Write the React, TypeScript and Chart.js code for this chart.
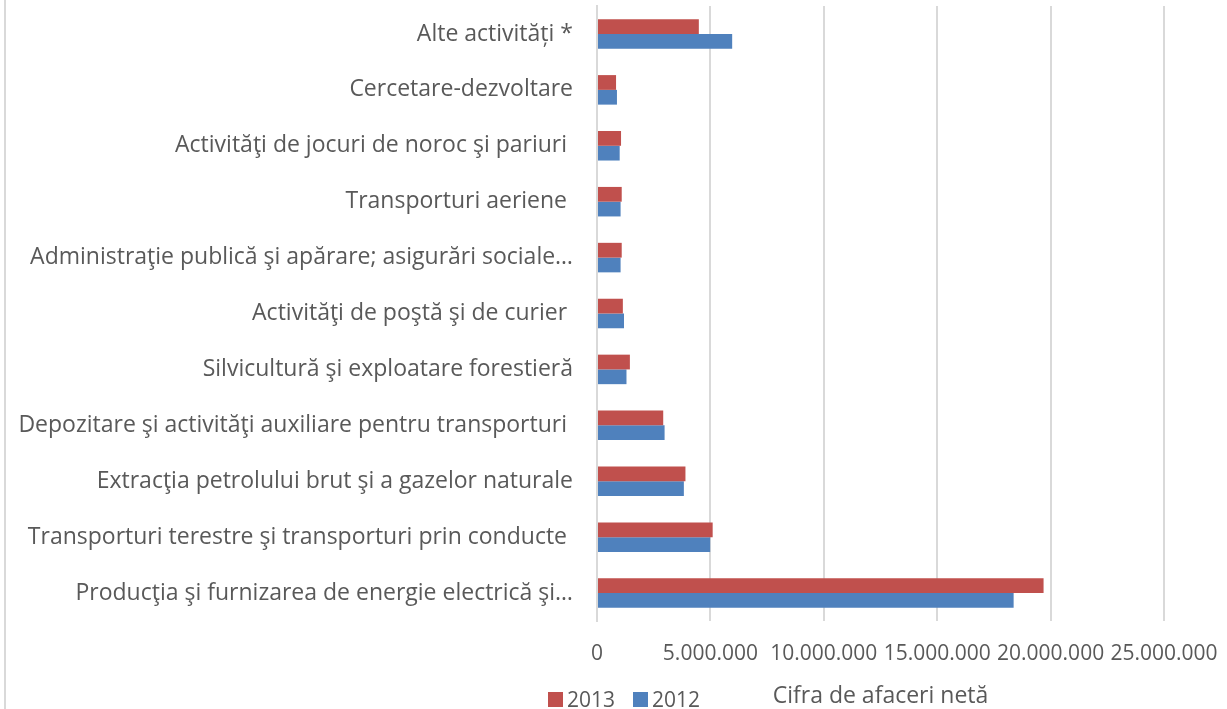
import React, { useEffect, useRef } from "react";
import { Chart, registerables } from "chart.js";

Chart.register(...registerables);

const categories = [
  "Alte activități *",
  "Cercetare-dezvoltare",
  "Activităţi de jocuri de noroc şi pariuri ",
  "Transporturi aeriene ",
  "Administraţie publică şi apărare; asigurări sociale…",
  "Activităţi de poştă şi de curier ",
  "Silvicultură şi exploatare forestieră",
  "Depozitare şi activităţi auxiliare pentru transporturi ",
  "Extracţia petrolului brut şi a gazelor naturale",
  "Transporturi terestre şi transporturi prin conducte ",
  "Producţia şi furnizarea de energie electrică şi…",
];

const values2013 = [4490000, 840000, 1060000, 1090000, 1090000, 1140000, 1450000, 2920000, 3900000, 5100000, 19690000];
const values2012 = [5960000, 880000, 1000000, 1040000, 1040000, 1190000, 1300000, 2980000, 3830000, 4990000, 18370000];

const seriesLabels = ["2013", "2012"];
const seriesColors = ["#c0504d", "#4f81bd"];

const axisTitle = "Cifra de afaceri netă";
const xMin = 0;
const xMax = 25000000;
const xStep = 5000000;

const FONT = "'Open Sans', 'DejaVu Sans', sans-serif";
const TEXT = "#595959";
const GRID = "#d9d9d9";

function fmt(v: number): string {
  return String(Math.round(v)).replace(/\B(?=(\d{3})+(?!\d))/g, ".");
}

export default function App() {
  const ref = useRef<HTMLCanvasElement | null>(null);

  useEffect(() => {
    if (!ref.current) return;
    const chart = new Chart(ref.current, {
      type: "bar",
      data: {
        labels: categories,
        datasets: [
          {
            label: seriesLabels[0],
            data: values2013,
            backgroundColor: seriesColors[0],
            categoryPercentage: 0.528,
            barPercentage: 1,
          },
          {
            label: seriesLabels[1],
            data: values2012,
            backgroundColor: seriesColors[1],
            categoryPercentage: 0.528,
            barPercentage: 1,
          },
        ],
      },
      options: {
        indexAxis: "y",
        animation: false,
        responsive: true,
        maintainAspectRatio: false,
        layout: { padding: { left: 0, right: 63, top: 6, bottom: 0 } },
        plugins: {
          legend: { display: false },
          tooltip: { enabled: false },
        },
        scales: {
          x: {
            min: xMin,
            max: xMax,
            afterFit: (s: any) => {
              s.height = 88;
            },
            ticks: {
              stepSize: xStep,
              color: TEXT,
              font: { family: FONT, size: 21 },
              padding: 0,
              maxRotation: 0,
              autoSkip: false,
              callback: (v: any) => fmt(Number(v)),
            },
            grid: {
              color: GRID,
              lineWidth: 2,
              drawTicks: true,
              tickLength: 20,
              tickColor: "rgba(0,0,0,0)",
            },
            border: { display: false },
            title: {
              display: true,
              text: axisTitle,
              color: TEXT,
              font: { family: FONT, size: 23 },
              padding: { top: 0, bottom: -1 },
            },
          },
          y: {
            afterFit: (s: any) => {
              s.width = 597;
            },
            ticks: {
              color: TEXT,
              font: { family: FONT, size: 23, lineHeight: 0.5 },
              padding: 0,
              autoSkip: false,
            },
            grid: { display: false, drawTicks: true, tickLength: 24 },
            border: { display: true, color: GRID, width: 2 },
          },
        },
      },
    });
    return () => chart.destroy();
  }, []);

  const legendText: React.CSSProperties = {
    position: "absolute",
    top: 687,
    fontFamily: FONT,
    fontSize: 21,
    lineHeight: "25px",
    color: TEXT,
  };
  const box: React.CSSProperties = { position: "absolute", top: 692, width: 15, height: 15 };

  return (
    <div style={{ position: "fixed", left: 0, top: 0, width: 1227, height: 709, background: "#fff", overflow: "hidden" }}>
      <div style={{ position: "absolute", left: 4, top: 0, width: 2, height: 709, background: GRID }} />
      <div style={{ position: "absolute", left: 0, top: 0, width: 1227, height: 709 }}>
        <canvas ref={ref} />
      </div>
      <div style={{ ...box, left: 548, background: seriesColors[0] }} />
      <div style={{ ...legendText, left: 567 }}>{seriesLabels[0]}</div>
      <div style={{ ...box, left: 633, background: seriesColors[1] }} />
      <div style={{ ...legendText, left: 652 }}>{seriesLabels[1]}</div>
    </div>
  );
}
